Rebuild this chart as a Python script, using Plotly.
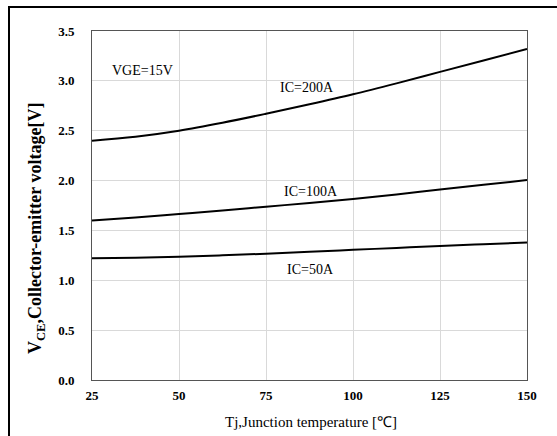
import plotly.graph_objects as go

temps = [25, 37.5, 50, 62.5, 75, 87.5, 100, 112.5, 125, 137.5, 150]
ic200 = [2.40, 2.44, 2.50, 2.58, 2.67, 2.765, 2.865, 2.975, 3.09, 3.205, 3.32]
ic100 = [1.60, 1.63, 1.665, 1.70, 1.738, 1.775, 1.815, 1.86, 1.91, 1.957, 2.005]
ic50 = [1.22, 1.225, 1.235, 1.25, 1.267, 1.285, 1.305, 1.325, 1.345, 1.362, 1.378]

x_ticks = [25, 50, 75, 100, 125, 150]
y_ticks = [0.0, 0.5, 1.0, 1.5, 2.0, 2.5, 3.0, 3.5]
y_tick_labels = ["0.0", "0.5", "1.0", "1.5", "2.0", "2.5", "3.0", "3.5"]

labels = [
    ("VGE=15V", 25 + (110 - 92) / 3.48, 3.10),
    ("IC=200A", 75 + (278 - 266) / 3.48, 2.93),
    ("IC=100A", 75 + (282 - 266) / 3.48, 1.89),
    ("IC=50A", 75 + (285 - 266) / 3.48, 1.11),
]

SERIF = "Liberation Serif"
fig = go.Figure()
for ys in (ic200, ic100, ic50):
    fig.add_trace(go.Scatter(x=temps, y=ys, mode="lines",
                             line=dict(color="black", width=2, shape="spline", smoothing=1.0),
                             showlegend=False, hoverinfo="skip"))

for txt, x, y in labels:
    fig.add_annotation(x=x, y=y, text=txt, showarrow=False, xanchor="left",
                       font=dict(family=SERIF, size=14, color="black"))

# axis titles
fig.add_annotation(xref="paper", yref="paper", x=(36 - 92) / 435, y=1 - (229 - 31) / 349,
                   text="V<sub>CE</sub>,Collector-emitter voltage[V]", textangle=-90,
                   showarrow=False, xanchor="center", yanchor="middle",
                   font=dict(family=SERIF, size=18, color="black", weight="bold"))
fig.add_annotation(xref="paper", yref="paper", x=(311 - 92) / 435, y=-(422 - 380) / 349,
                   text="Tj,Junction temperature [℃]",
                   showarrow=False, xanchor="center", yanchor="middle",
                   font=dict(family=SERIF, size=15, color="black"))

# outer frame
fig.add_shape(type="rect", xref="paper", yref="paper",
              x0=(9 - 92) / 435, x1=1 + 60 / 435,
              y0=-80 / 349, y1=1 + (31 - 7) / 349,
              line=dict(color="black", width=2), layer="below")

fig.update_layout(
    width=557, height=436,
    margin=dict(l=92, r=30, t=31, b=56),
    paper_bgcolor="white", plot_bgcolor="white",
    xaxis=dict(range=[25, 150], tickvals=x_ticks, showgrid=True,
               gridcolor="#d9d9d9", gridwidth=1, zeroline=False,
               showline=True, mirror=True, linecolor="#555555", linewidth=1,
               ticks="", ticklen=0, ticklabelstandoff=3,
               tickfont=dict(family=SERIF, size=13, color="black", weight="bold")),
    yaxis=dict(range=[0, 3.5], tickvals=y_ticks, ticktext=y_tick_labels,
               showgrid=True, gridcolor="#d9d9d9", gridwidth=1, zeroline=False,
               showline=True, mirror=True, linecolor="#555555", linewidth=1,
               ticks="", ticklen=0, ticklabelstandoff=14,
               tickfont=dict(family=SERIF, size=13, color="black", weight="bold")),
)

fig.write_html("out.html")
